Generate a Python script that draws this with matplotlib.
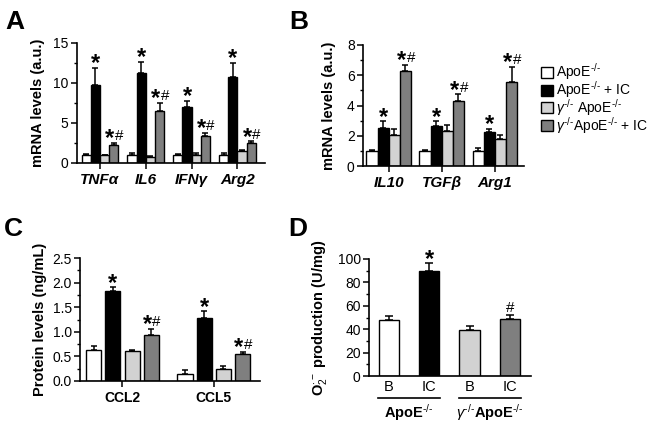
import numpy as np
import matplotlib
matplotlib.use("Agg")
import matplotlib.pyplot as plt
from matplotlib.patches import Rectangle
from matplotlib.ticker import MultipleLocator, FormatStrFormatter

plt.rcParams['font.family'] = ['Liberation Sans', 'DejaVu Sans']
plt.rcParams['mathtext.fontset'] = 'custom'
plt.rcParams['mathtext.rm'] = 'Liberation Sans'
plt.rcParams['mathtext.it'] = 'Liberation Sans:italic'
plt.rcParams['mathtext.bf'] = 'Liberation Sans:bold'

# series labels and colours
series_labels = [r'ApoE$^{\text{-/-}}$', r'ApoE$^{\text{-/-}}$ + IC',
                 r'$\gamma^{\text{-/-}}$ ApoE$^{\text{-/-}}$', r'$\gamma^{\text{-/-}}$ApoE$^{\text{-/-}}$ + IC']
series_colors = ['white', 'black', '#d2d2d2', '#7f7f7f']

# panel A - mRNA levels, pro-inflammatory genes
genes_a = ['TNFα', 'IL6', 'IFNγ', 'Arg2']
mean_a = [[1.0, 1.0, 1.0, 1.0],
          [9.8, 11.3, 7.0, 10.75],
          [0.95, 0.75, 1.0, 1.45],
          [2.2, 6.5, 3.4, 2.5]]
err_a = [[0.15, 0.2, 0.15, 0.25],
         [2.1, 1.35, 0.75, 1.8],
         [0.1, 0.1, 0.2, 0.2],
         [0.3, 1.0, 0.35, 0.2]]
marks_a = [['', '', '', ''], ['*', '*', '*', '*'], ['', '', '', ''], ['*#', '*#', '*#', '*#']]

# panel B - mRNA levels, anti-inflammatory genes
genes_b = ['IL10', 'TGFβ', 'Arg1']
mean_b = [[1.0, 1.0, 1.0],
          [2.52, 2.63, 2.25],
          [2.08, 2.3, 1.81],
          [6.3, 4.31, 5.57]]
err_b = [[0.05, 0.03, 0.2],
         [0.44, 0.33, 0.22],
         [0.39, 0.4, 0.27],
         [0.38, 0.42, 0.99]]
marks_b = [['', '', ''], ['*', '*', '*'], ['', '', ''], ['*#', '*#', '*#']]

# panel C - protein levels
prot_c = ['CCL2', 'CCL5']
mean_c = [[0.64, 0.15], [1.83, 1.29], [0.6, 0.24], [0.94, 0.54]]
err_c = [[0.07, 0.07], [0.08, 0.13], [0.04, 0.06], [0.12, 0.05]]
marks_c = [['', ''], ['*', '*'], ['', ''], ['*#', '*#']]

# panel D - superoxide production
cond_d = ['B', 'IC', 'B', 'IC']
groups_d = [r'ApoE$^{\text{-/-}}$', r'$\gamma^{\text{-/-}}$ApoE$^{\text{-/-}}$']
mean_d = [47.5, 89.7, 39.2, 49.0]
err_d = [3.4, 6.6, 3.4, 3.5]
marks_d = ['', '*', '', '#']

W, H = 647, 422
fig = plt.figure(figsize=(W / 100, H / 100), dpi=100)


def add_ax(left, top, right, bottom):
    return fig.add_axes([left / W, 1 - bottom / H, (right - left) / W, (bottom - top) / H])


def style(ax, major, minor, ylim):
    for s in ['top', 'right']:
        ax.spines[s].set_visible(False)
    for s in ['left', 'bottom']:
        ax.spines[s].set_linewidth(1.2)
    ax.set_ylim(*ylim)
    ax.yaxis.set_major_locator(MultipleLocator(major))
    ax.yaxis.set_minor_locator(MultipleLocator(minor))
    ax.tick_params(axis='y', which='major', length=4, width=1.1, labelsize=10, pad=2)
    ax.tick_params(axis='y', which='minor', length=2.5, width=1.0)
    ax.tick_params(axis='x', length=4, width=1.1, pad=3)


def put_mark(ax, x, y, mark):
    # big asterisk + smaller hash, sitting just above the error bar
    if mark == '*':
        ax.annotate('*', (x, y), xytext=(0, -1.8), textcoords='offset points',
                    ha='center', va='baseline', fontsize=17, fontweight='bold')
    elif mark == '#':
        ax.annotate('#', (x, y), xytext=(0, 1.8), textcoords='offset points',
                    ha='center', va='baseline', fontsize=11)
    elif mark == '*#':
        ax.annotate('*', (x, y), xytext=(-2.8, -1.8), textcoords='offset points',
                    ha='center', va='baseline', fontsize=17, fontweight='bold')
        ax.annotate('#', (x, y), xytext=(3.8, 1.8), textcoords='offset points',
                    ha='center', va='baseline', fontsize=11)


def grouped(ax, means, errs, marks, width, step):
    n = len(means[0])
    x = np.arange(n)
    for i in range(4):
        xi = x + (i - 1.5) * step
        m = np.array(means[i])
        e = np.array(errs[i])
        ax.bar(xi, m, width, color=series_colors[i], edgecolor='black', linewidth=1.0, zorder=2)
        ax.errorbar(xi, m, yerr=[np.zeros(n), e], fmt='none', ecolor='black',
                    elinewidth=1.1, capsize=2.5, capthick=1.1, zorder=1)
        for j in range(n):
            put_mark(ax, xi[j], m[j] + e[j], marks[i][j])
    ax.set_xticks(x)


# A
axA = add_ax(77, 43, 265, 163)
grouped(axA, mean_a, err_a, marks_a, 0.2, 0.2)
axA.set_xlim(-0.5, 3.6)
style(axA, 5, 2.5, (0, 15))
axA.set_xticklabels(genes_a, fontsize=11, fontweight='bold', fontstyle='italic')
axA.set_ylabel('mRNA levels (a.u.)', fontsize=10.5, fontweight='bold', labelpad=6)

# B
axB = add_ax(363, 45, 524, 166)
grouped(axB, mean_b, err_b, marks_b, 0.21, 0.21)
axB.set_xlim(-0.485, 2.55)
style(axB, 2, 1, (0, 8))
axB.set_xticklabels(genes_b, fontsize=11, fontweight='bold', fontstyle='italic')
axB.set_ylabel('mRNA levels (a.u.)', fontsize=10.5, fontweight='bold', labelpad=8)

# C
axC = add_ax(80, 258, 260, 381)
grouped(axC, mean_c, err_c, marks_c, 0.165, 0.21)
axC.set_xlim(-0.465, 1.506)
style(axC, 0.5, 0.25, (0, 2.5))
axC.yaxis.set_major_formatter(FormatStrFormatter('%.1f'))
axC.set_xticklabels(prot_c, fontsize=10, fontweight='bold')
axC.set_ylabel('Protein levels (ng/mL)', fontsize=10.5, fontweight='bold', labelpad=4)

# D
axD = add_ax(369, 259, 531, 376)
xd = np.arange(4)
axD.bar(xd, mean_d, 0.5, color=series_colors, edgecolor='black', linewidth=1.0, zorder=2)
axD.errorbar(xd, mean_d, yerr=[np.zeros(4), err_d], fmt='none', ecolor='black',
             elinewidth=1.1, capsize=3, capthick=1.1, zorder=1)
for k in range(4):
    put_mark(axD, xd[k], mean_d[k] + err_d[k], marks_d[k])
axD.set_xlim(-0.49, 3.52)
style(axD, 20, 10, (0, 100))
axD.set_xticks(xd)
axD.set_xticklabels(cond_d, fontsize=10.5)
axD.tick_params(axis='x', length=0, pad=3)
axD.set_ylabel(r'O$_2^{\cdot -}$ production (U/mg)', fontsize=10.5, fontweight='bold', labelpad=6)
for g in range(2):
    x0, x1 = 2 * g - 0.27, 2 * g + 1 + 0.27
    axD.plot([x0, x1], [-0.19, -0.19], color='black', linewidth=1.2,
             transform=axD.get_xaxis_transform(), clip_on=False)
    axD.text(2 * g + 0.5, -0.22, groups_d[g], transform=axD.get_xaxis_transform(),
             ha='center', va='top', fontsize=10.5, fontweight='bold')

# legend, drawn by hand so the rows sit as tight as in the original
row_y = [72, 90, 107.5, 125.5]
for i in range(4):
    fig.add_artist(Rectangle((541 / W, 1 - (row_y[i] + 5.5) / H), 11.5 / W, 11 / H,
                             facecolor=series_colors[i], edgecolor='black', linewidth=1.0,
                             transform=fig.transFigure))
    fig.text(556 / W, 1 - (row_y[i] + 5) / H, series_labels[i], fontsize=10,
             ha='left', va='baseline')

# panel letters
for letter, px, py in [('A', 5, 10), ('B', 289, 10), ('C', 4, 217), ('D', 288, 217)]:
    fig.text(px / W, 1 - py / H, letter, fontsize=19, fontweight='bold', va='top', ha='left')

fig.savefig('out.png', dpi=100)
